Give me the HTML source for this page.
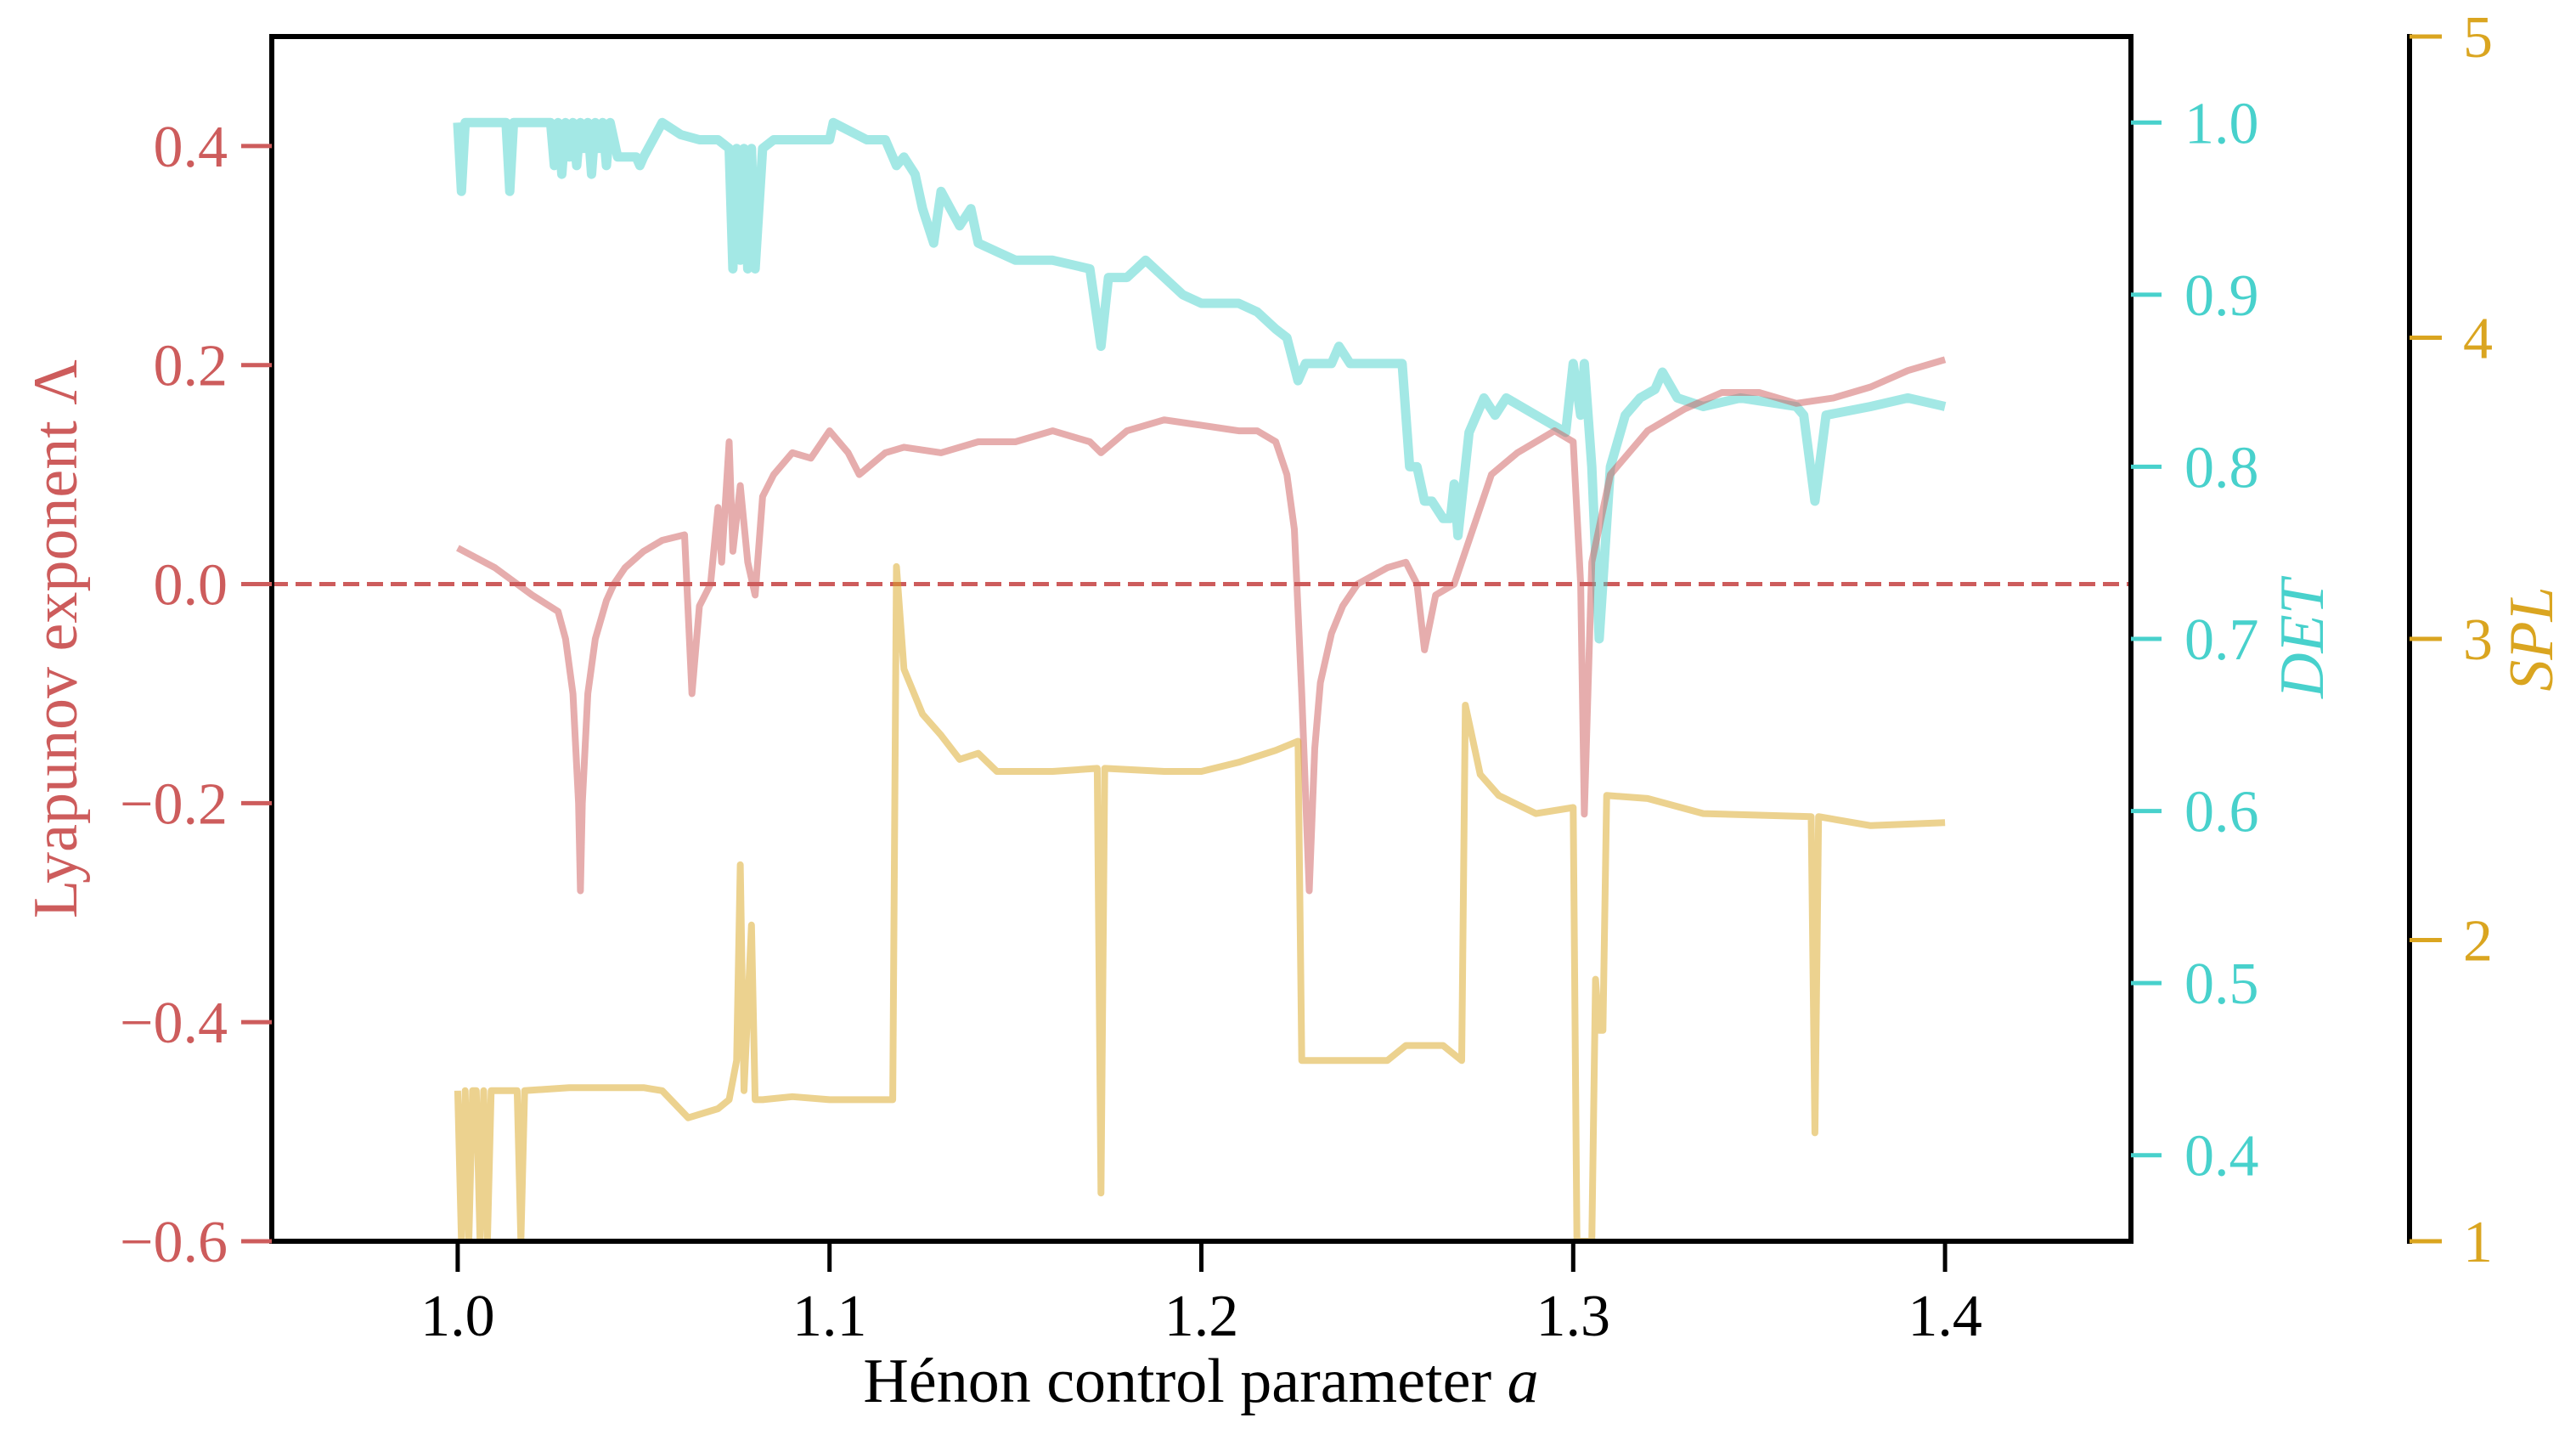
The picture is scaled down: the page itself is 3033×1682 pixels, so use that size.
<!DOCTYPE html>
<html><head><meta charset="utf-8">
<style>
html,body{margin:0;padding:0;background:#fff;}
svg{display:block;font-family:"Liberation Serif","DejaVu Serif",serif;}
</style></head>
<body>
<svg id="chart" width="3033" height="1682" viewBox="0 0 3033 1682" xmlns="http://www.w3.org/2000/svg"></svg>
<script>
// ---- data ----
const lyapA = [1.0,1.01,1.02,1.027,1.029,1.031,1.0325,1.033,1.0335,1.035,1.037,1.04,1.042,1.045,1.05,1.055,1.061,1.063,1.065,1.068,1.07,1.071,1.073,1.074,1.076,1.078,1.08,1.082,1.085,1.09,1.095,1.1,1.105,1.108,1.115,1.12,1.13,1.14,1.15,1.16,1.17,1.173,1.18,1.19,1.2,1.21,1.215,1.22,1.223,1.225,1.227,1.229,1.2305,1.232,1.235,1.238,1.242,1.25,1.255,1.258,1.26,1.263,1.268,1.272,1.278,1.285,1.295,1.3,1.302,1.303,1.305,1.31,1.32,1.33,1.34,1.35,1.36,1.37,1.38,1.39,1.4];
const lyapV = [0.033,0.015,-0.01,-0.025,-0.05,-0.1,-0.2,-0.28,-0.2,-0.1,-0.05,-0.015,0.0,0.015,0.03,0.04,0.045,-0.1,-0.02,0.0,0.07,0.02,0.13,0.03,0.09,0.02,-0.01,0.08,0.1,0.12,0.115,0.14,0.12,0.1,0.12,0.125,0.12,0.13,0.13,0.14,0.13,0.12,0.14,0.15,0.145,0.14,0.14,0.13,0.1,0.05,-0.1,-0.28,-0.15,-0.09,-0.045,-0.02,0.0,0.015,0.02,0.0,-0.06,-0.01,0.0,0.04,0.1,0.12,0.14,0.13,0.0,-0.21,0.02,0.1,0.14,0.16,0.175,0.175,0.165,0.17,0.18,0.195,0.205];
const detA = [1.0,1.001,1.002,1.013,1.014,1.015,1.025,1.026,1.027,1.028,1.029,1.030,1.031,1.032,1.033,1.034,1.035,1.036,1.037,1.038,1.039,1.040,1.041,1.043,1.048,1.049,1.05,1.055,1.06,1.065,1.07,1.073,1.074,1.075,1.076,1.077,1.078,1.079,1.08,1.082,1.085,1.09,1.1,1.101,1.11,1.115,1.118,1.12,1.123,1.125,1.128,1.13,1.135,1.138,1.14,1.145,1.15,1.16,1.17,1.173,1.175,1.18,1.185,1.19,1.195,1.2,1.21,1.215,1.22,1.223,1.226,1.228,1.235,1.237,1.24,1.254,1.256,1.258,1.26,1.262,1.265,1.267,1.268,1.269,1.272,1.276,1.279,1.282,1.29,1.298,1.3,1.302,1.303,1.305,1.307,1.31,1.314,1.318,1.322,1.324,1.328,1.335,1.345,1.36,1.362,1.365,1.368,1.38,1.39,1.4];
const detV = [1.0,0.96,1.0,1.0,0.96,1.0,1.0,0.975,1.0,0.97,1.0,0.98,1.0,0.975,1.0,0.985,1.0,0.97,1.0,0.985,1.0,0.975,1.0,0.98,0.98,0.975,0.98,1.0,0.993,0.99,0.99,0.985,0.915,0.985,0.92,0.985,0.915,0.985,0.915,0.985,0.99,0.99,0.99,1.0,0.99,0.99,0.975,0.98,0.97,0.95,0.93,0.96,0.94,0.95,0.93,0.925,0.92,0.92,0.915,0.87,0.91,0.91,0.92,0.91,0.9,0.895,0.895,0.89,0.88,0.875,0.85,0.86,0.86,0.87,0.86,0.86,0.8,0.8,0.78,0.78,0.77,0.77,0.79,0.76,0.82,0.84,0.83,0.84,0.83,0.82,0.86,0.83,0.86,0.8,0.7,0.8,0.83,0.84,0.845,0.855,0.84,0.835,0.84,0.835,0.83,0.78,0.83,0.835,0.84,0.835];
const splA = [1.0,1.001,1.002,1.003,1.004,1.005,1.006,1.007,1.008,1.009,1.016,1.017,1.018,1.03,1.05,1.055,1.062,1.07,1.073,1.075,1.076,1.077,1.079,1.08,1.082,1.09,1.1,1.117,1.118,1.12,1.125,1.13,1.135,1.14,1.145,1.16,1.172,1.173,1.174,1.19,1.2,1.21,1.22,1.226,1.227,1.228,1.25,1.255,1.265,1.27,1.271,1.275,1.28,1.29,1.3,1.301,1.305,1.306,1.307,1.308,1.309,1.32,1.335,1.364,1.365,1.366,1.38,1.4];
const splV = [1.5,1.0,1.5,1.0,1.5,1.5,1.0,1.5,1.0,1.5,1.5,1.0,1.5,1.51,1.51,1.5,1.41,1.44,1.47,1.6,2.25,1.5,2.05,1.47,1.47,1.48,1.47,1.47,3.24,2.9,2.75,2.68,2.6,2.62,2.56,2.56,2.57,1.16,2.57,2.56,2.56,2.59,2.63,2.66,1.6,1.6,1.6,1.65,1.65,1.6,2.78,2.55,2.48,2.42,2.44,1.0,1.0,1.87,1.7,1.7,2.48,2.47,2.42,2.41,1.36,2.41,2.38,2.39];
const xTicks = [1.0,1.1,1.2,1.3,1.4];
const lyapTicks = [0.4,0.2,0.0,-0.2,-0.4,-0.6];
const detTicks = [1.0,0.9,0.8,0.7,0.6,0.5,0.4];
const splTicks = [5,4,3,2,1];

// ---- geometry ----
const L=320,R=2509,T=43,B=1461;
const sx=v=>L+(v-0.95)/0.5*(R-L);
const syL=v=>T+(0.5-v)/1.1*(B-T);
const syD=v=>T+(1.05-v)/0.7*(B-T);
const syS=v=>T+(5-v)/4*(B-T);
const NS="http://www.w3.org/2000/svg";
const svg=document.getElementById('chart');
function mk(tag,attrs,parent){const e=document.createElementNS(NS,tag);for(const k in attrs)e.setAttribute(k,attrs[k]);(parent||svg).appendChild(e);return e;}
function fmt(v,d){return (v<0?'\u2212':'')+Math.abs(v).toFixed(d);}
function pathOf(xs,ys,fy){return xs.map((x,i)=>(i?'L':'M')+sx(x).toFixed(1)+' '+fy(ys[i]).toFixed(1)).join(' ');}

const defs=mk('defs',{});
const cp=mk('clipPath',{id:'plotclip'},defs);
mk('rect',{x:L,y:T,width:R-L,height:B-T},cp);

const g=mk('g',{'clip-path':'url(#plotclip)'});



const zl=mk('line',{x1:L,x2:R,y1:syL(0),y2:syL(0),stroke:'#cd5c5c','stroke-width':5,'stroke-dasharray':'19 9'},g);



const pD=mk('path',{d:pathOf(detA,detV,syD),fill:'none',stroke:'#48d1cc','stroke-opacity':0.5,'stroke-width':11,'stroke-linejoin':'round'},g);


const pL=mk('path',{d:pathOf(lyapA,lyapV,syL),fill:'none',stroke:'#cd5c5c','stroke-opacity':0.5,'stroke-width':8,'stroke-linejoin':'round'},g);


const pS=mk('path',{d:pathOf(splA,splV,syS),fill:'none',stroke:'#daa520','stroke-opacity':0.5,'stroke-width':8,'stroke-linejoin':'round'},g);



const fr=mk('rect',{x:L,y:T,width:R-L,height:B-T,fill:'none',stroke:'#000','stroke-width':6});



xTicks.forEach(v=>{
  const x=sx(v);
  const t=mk('line',{x1:x,x2:x,y1:B,y2:B+36,stroke:'#000','stroke-width':5});
  
  
  const tx=mk('text',{x:x,y:1572,'text-anchor':'middle','font-size':70,fill:'#000'});
  tx.textContent=v.toFixed(1);
  
  
});
lyapTicks.forEach(v=>{
  const y=syL(v);
  const t=mk('line',{x1:L-36,x2:L,y1:y,y2:y,stroke:'#cd5c5c','stroke-width':5});
  
  
  const tx=mk('text',{x:268,y:y+24,'text-anchor':'end','font-size':70,fill:'#cd5c5c'});
  tx.textContent=fmt(v,1);
  
  
});
detTicks.forEach(v=>{
  const y=syD(v);
  const t=mk('line',{x1:R,x2:R+36,y1:y,y2:y,stroke:'#48d1cc','stroke-width':5});
  
  
  const tx=mk('text',{x:2572,y:y+24,'text-anchor':'start','font-size':70,fill:'#48d1cc'});
  tx.textContent=v.toFixed(1);
  
  
});
const SX=2837;
const sp=mk('line',{x1:SX,x2:SX,y1:T-3,y2:B+3,stroke:'#000','stroke-width':6});


splTicks.forEach(v=>{
  const y=syS(v);
  const t=mk('line',{x1:SX,x2:SX+38,y1:y,y2:y,stroke:'#daa520','stroke-width':5});
  
  
  const tx=mk('text',{x:2900,y:y+24,'text-anchor':'start','font-size':70,fill:'#daa520'});
  tx.textContent=String(v);
  
  
});
const xt=mk('text',{x:1414,y:1650,'text-anchor':'middle','font-size':74,fill:'#000'});
xt.innerHTML='Hénon control parameter <tspan font-style="italic">a</tspan>';


const yl=mk('text',{x:0,y:0,'text-anchor':'middle','font-size':74,fill:'#cd5c5c',transform:'translate(90,752) rotate(-90)'});
yl.textContent='Lyapunov exponent Λ';


const yd=mk('text',{x:0,y:0,'text-anchor':'middle','font-size':74,'font-style':'italic',fill:'#48d1cc',transform:'translate(2735,752) rotate(-90)'});
yd.textContent='DET';


const ys=mk('text',{x:0,y:0,'text-anchor':'middle','font-size':74,'font-style':'italic',fill:'#daa520',transform:'translate(3005,752) rotate(-90)'});
ys.textContent='SPL';


</script>
</body></html>
